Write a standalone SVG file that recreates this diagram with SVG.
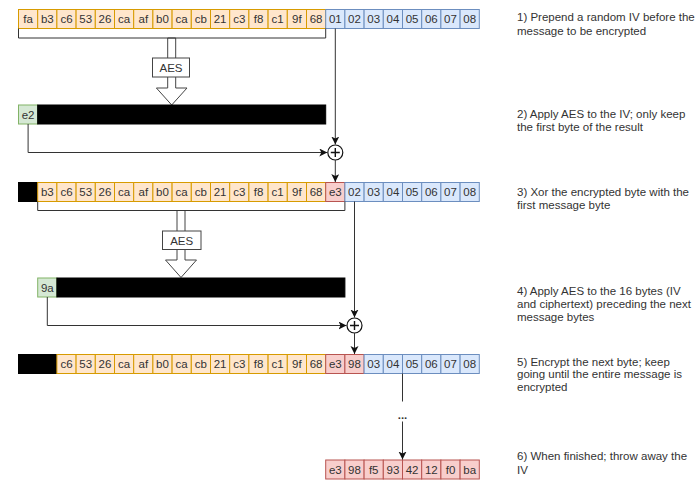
<svg xmlns="http://www.w3.org/2000/svg" width="700" height="488" viewBox="0 0 700 488">
<style>
  text { font-family: "Liberation Sans", Arial, sans-serif; fill: #333; }
  .c text, text.b { font-size: 11.5px; text-anchor: middle; }
  .o { fill: #ffe6cc; stroke: #d79b00; stroke-width: 1; }
  .bl { fill: #dae8fc; stroke: #6c8ebf; stroke-width: 1; }
  .g { fill: #d5e8d4; stroke: #82b366; stroke-width: 1; }
  .p { fill: #f8cecc; stroke: #b85450; stroke-width: 1; }
  .k { fill: #000; stroke: #000; stroke-width: 1; }
  .ln { fill: none; stroke: #333; stroke-width: 1; }
  .ar { fill: none; stroke: #333; stroke-width: 1; marker-end: url(#arr); }
  .fa { fill: #fff; stroke: #444; stroke-width: 1; }
  .note { font-size: 11.5px; }
</style>
<defs>
  <marker id="arr" markerUnits="userSpaceOnUse" markerWidth="10" markerHeight="10" refX="8" refY="4" orient="auto">
    <path d="M0,0 L8,4 L0,8 L2,4 Z" fill="#111"/>
  </marker>
</defs>

<!-- Row 1 -->
<g id="row1" class="c">
  <rect class="o" x="18.5" y="9.5" width="19.2" height="19"/><text x="28.1" y="23">fa</text>
  <rect class="o" x="37.7" y="9.5" width="19.2" height="19"/><text x="47.3" y="23">b3</text>
  <rect class="o" x="56.9" y="9.5" width="19.2" height="19"/><text x="66.5" y="23">c6</text>
  <rect class="o" x="76.1" y="9.5" width="19.2" height="19"/><text x="85.7" y="23">53</text>
  <rect class="o" x="95.3" y="9.5" width="19.2" height="19"/><text x="104.9" y="23">26</text>
  <rect class="o" x="114.5" y="9.5" width="19.2" height="19"/><text x="124.1" y="23">ca</text>
  <rect class="o" x="133.7" y="9.5" width="19.2" height="19"/><text x="143.3" y="23">af</text>
  <rect class="o" x="152.9" y="9.5" width="19.2" height="19"/><text x="162.5" y="23">b0</text>
  <rect class="o" x="172.1" y="9.5" width="19.2" height="19"/><text x="181.7" y="23">ca</text>
  <rect class="o" x="191.3" y="9.5" width="19.2" height="19"/><text x="200.9" y="23">cb</text>
  <rect class="o" x="210.5" y="9.5" width="19.2" height="19"/><text x="220.1" y="23">21</text>
  <rect class="o" x="229.7" y="9.5" width="19.2" height="19"/><text x="239.3" y="23">c3</text>
  <rect class="o" x="248.9" y="9.5" width="19.2" height="19"/><text x="258.5" y="23">f8</text>
  <rect class="o" x="268.1" y="9.5" width="19.2" height="19"/><text x="277.7" y="23">c1</text>
  <rect class="o" x="287.3" y="9.5" width="19.2" height="19"/><text x="296.9" y="23">9f</text>
  <rect class="o" x="306.5" y="9.5" width="19.2" height="19"/><text x="316.1" y="23">68</text>
  <rect class="bl" x="325.7" y="9.5" width="19.2" height="19"/><text x="335.3" y="23">01</text>
  <rect class="bl" x="344.9" y="9.5" width="19.2" height="19"/><text x="354.5" y="23">02</text>
  <rect class="bl" x="364.1" y="9.5" width="19.2" height="19"/><text x="373.7" y="23">03</text>
  <rect class="bl" x="383.3" y="9.5" width="19.2" height="19"/><text x="392.9" y="23">04</text>
  <rect class="bl" x="402.5" y="9.5" width="19.2" height="19"/><text x="412.1" y="23">05</text>
  <rect class="bl" x="421.7" y="9.5" width="19.2" height="19"/><text x="431.3" y="23">06</text>
  <rect class="bl" x="440.9" y="9.5" width="19.2" height="19"/><text x="450.5" y="23">07</text>
  <rect class="bl" x="460.1" y="9.5" width="19.2" height="19"/><text x="469.7" y="23">08</text>
</g>

<!-- AES 1 -->
<g id="aes1">
  <path class="fa" d="M167.7,38 H175.7 V88 H187 L171.7,105 L156.4,88 H167.7 Z"/>
  <rect class="fa" x="152.5" y="58" width="37" height="19"/>
  <text class="b" x="171" y="71.5">AES</text>
</g>

<!-- e2 row -->
<g id="res1" class="c">
  <rect class="g" x="18.5" y="105" width="19.2" height="19"/><text x="28.1" y="118.5">e2</text>
  <rect class="k" x="37.7" y="105" width="288" height="19"/>
</g>

<!-- Row 2 -->
<g id="row2" class="c">
  <rect class="k" x="18.5" y="182.5" width="19.2" height="19"/>
  <rect class="o" x="37.7" y="182.5" width="19.2" height="19"/><text x="47.3" y="196">b3</text>
  <rect class="o" x="56.9" y="182.5" width="19.2" height="19"/><text x="66.5" y="196">c6</text>
  <rect class="o" x="76.1" y="182.5" width="19.2" height="19"/><text x="85.7" y="196">53</text>
  <rect class="o" x="95.3" y="182.5" width="19.2" height="19"/><text x="104.9" y="196">26</text>
  <rect class="o" x="114.5" y="182.5" width="19.2" height="19"/><text x="124.1" y="196">ca</text>
  <rect class="o" x="133.7" y="182.5" width="19.2" height="19"/><text x="143.3" y="196">af</text>
  <rect class="o" x="152.9" y="182.5" width="19.2" height="19"/><text x="162.5" y="196">b0</text>
  <rect class="o" x="172.1" y="182.5" width="19.2" height="19"/><text x="181.7" y="196">ca</text>
  <rect class="o" x="191.3" y="182.5" width="19.2" height="19"/><text x="200.9" y="196">cb</text>
  <rect class="o" x="210.5" y="182.5" width="19.2" height="19"/><text x="220.1" y="196">21</text>
  <rect class="o" x="229.7" y="182.5" width="19.2" height="19"/><text x="239.3" y="196">c3</text>
  <rect class="o" x="248.9" y="182.5" width="19.2" height="19"/><text x="258.5" y="196">f8</text>
  <rect class="o" x="268.1" y="182.5" width="19.2" height="19"/><text x="277.7" y="196">c1</text>
  <rect class="o" x="287.3" y="182.5" width="19.2" height="19"/><text x="296.9" y="196">9f</text>
  <rect class="o" x="306.5" y="182.5" width="19.2" height="19"/><text x="316.1" y="196">68</text>
  <rect class="p" x="325.7" y="182.5" width="19.2" height="19"/><text x="335.3" y="196">e3</text>
  <rect class="bl" x="344.9" y="182.5" width="19.2" height="19"/><text x="354.5" y="196">02</text>
  <rect class="bl" x="364.1" y="182.5" width="19.2" height="19"/><text x="373.7" y="196">03</text>
  <rect class="bl" x="383.3" y="182.5" width="19.2" height="19"/><text x="392.9" y="196">04</text>
  <rect class="bl" x="402.5" y="182.5" width="19.2" height="19"/><text x="412.1" y="196">05</text>
  <rect class="bl" x="421.7" y="182.5" width="19.2" height="19"/><text x="431.3" y="196">06</text>
  <rect class="bl" x="440.9" y="182.5" width="19.2" height="19"/><text x="450.5" y="196">07</text>
  <rect class="bl" x="460.1" y="182.5" width="19.2" height="19"/><text x="469.7" y="196">08</text>
</g>

<!-- AES 2 -->
<g id="aes2">
  <path class="fa" d="M177,210.5 H185 V260 H196.5 L181,277.5 L165.5,260 H177 Z"/>
  <rect class="fa" x="162.5" y="231" width="38.5" height="18.5"/>
  <text class="b" x="181.7" y="244.5">AES</text>
</g>

<!-- 9a row -->
<g id="res2" class="c">
  <rect class="g" x="37.7" y="278" width="19.2" height="19"/><text x="47.3" y="291.5">9a</text>
  <rect class="k" x="56.9" y="278" width="288" height="19"/>
</g>

<!-- Row 3 -->
<g id="row3" class="c">
  <rect class="k" x="18.5" y="354.5" width="38.4" height="19"/>
  <rect class="o" x="56.9" y="354.5" width="19.2" height="19"/><text x="66.5" y="368">c6</text>
  <rect class="o" x="76.1" y="354.5" width="19.2" height="19"/><text x="85.7" y="368">53</text>
  <rect class="o" x="95.3" y="354.5" width="19.2" height="19"/><text x="104.9" y="368">26</text>
  <rect class="o" x="114.5" y="354.5" width="19.2" height="19"/><text x="124.1" y="368">ca</text>
  <rect class="o" x="133.7" y="354.5" width="19.2" height="19"/><text x="143.3" y="368">af</text>
  <rect class="o" x="152.9" y="354.5" width="19.2" height="19"/><text x="162.5" y="368">b0</text>
  <rect class="o" x="172.1" y="354.5" width="19.2" height="19"/><text x="181.7" y="368">ca</text>
  <rect class="o" x="191.3" y="354.5" width="19.2" height="19"/><text x="200.9" y="368">cb</text>
  <rect class="o" x="210.5" y="354.5" width="19.2" height="19"/><text x="220.1" y="368">21</text>
  <rect class="o" x="229.7" y="354.5" width="19.2" height="19"/><text x="239.3" y="368">c3</text>
  <rect class="o" x="248.9" y="354.5" width="19.2" height="19"/><text x="258.5" y="368">f8</text>
  <rect class="o" x="268.1" y="354.5" width="19.2" height="19"/><text x="277.7" y="368">c1</text>
  <rect class="o" x="287.3" y="354.5" width="19.2" height="19"/><text x="296.9" y="368">9f</text>
  <rect class="o" x="306.5" y="354.5" width="19.2" height="19"/><text x="316.1" y="368">68</text>
  <rect class="p" x="325.7" y="354.5" width="19.2" height="19"/><text x="335.3" y="368">e3</text>
  <rect class="p" x="344.9" y="354.5" width="19.2" height="19"/><text x="354.5" y="368">98</text>
  <rect class="bl" x="364.1" y="354.5" width="19.2" height="19"/><text x="373.7" y="368">03</text>
  <rect class="bl" x="383.3" y="354.5" width="19.2" height="19"/><text x="392.9" y="368">04</text>
  <rect class="bl" x="402.5" y="354.5" width="19.2" height="19"/><text x="412.1" y="368">05</text>
  <rect class="bl" x="421.7" y="354.5" width="19.2" height="19"/><text x="431.3" y="368">06</text>
  <rect class="bl" x="440.9" y="354.5" width="19.2" height="19"/><text x="450.5" y="368">07</text>
  <rect class="bl" x="460.1" y="354.5" width="19.2" height="19"/><text x="469.7" y="368">08</text>
</g>

<!-- Final row -->
<g id="final" class="c">
  <rect class="p" x="325.7" y="460" width="19.2" height="19"/><text x="335.3" y="473.5">e3</text>
  <rect class="p" x="344.9" y="460" width="19.2" height="19"/><text x="354.5" y="473.5">98</text>
  <rect class="p" x="364.1" y="460" width="19.2" height="19"/><text x="373.7" y="473.5">f5</text>
  <rect class="p" x="383.3" y="460" width="19.2" height="19"/><text x="392.9" y="473.5">93</text>
  <rect class="p" x="402.5" y="460" width="19.2" height="19"/><text x="412.1" y="473.5">42</text>
  <rect class="p" x="421.7" y="460" width="19.2" height="19"/><text x="431.3" y="473.5">12</text>
  <rect class="p" x="440.9" y="460" width="19.2" height="19"/><text x="450.5" y="473.5">f0</text>
  <rect class="p" x="460.1" y="460" width="19.2" height="19"/><text x="469.7" y="473.5">ba</text>
</g>

<!-- XOR nodes -->
<g id="xor1">
  <circle cx="335.3" cy="152.5" r="7.5" fill="#fff" stroke="#111" stroke-width="1.2"/>
  <path d="M330.8,152.5 H339.8 M335.3,148 V157" stroke="#111" stroke-width="1.4"/>
</g>
<g id="xor2">
  <circle cx="354.5" cy="325.5" r="7.5" fill="#fff" stroke="#111" stroke-width="1.2"/>
  <path d="M350,325.5 H359 M354.5,321 V330" stroke="#111" stroke-width="1.4"/>
</g>

<!-- Connectors -->
<g id="connectors">
  <path class="ln" d="M18.5,28.5 V38 H325.7 V28.5"/>
  <path class="ln" d="M37.7,201.5 V210.5 H344.9 V201.5"/>
  <path class="ar" d="M335.3,28.5 V144.5"/>
  <path class="ar" d="M28.1,124 V152.5 H327.3"/>
  <path class="ar" d="M335.3,160 V182"/>
  <path class="ar" d="M354.5,201.5 V317.5"/>
  <path class="ar" d="M47.3,297 V325.5 H346.5"/>
  <path class="ar" d="M354.5,333 V354"/>
  <path class="ln" d="M402.5,373.5 V401.5"/>
  <path class="ar" d="M402.5,421.5 V459.5"/>
  <text class="b" x="402.5" y="419" font-weight="bold">...</text>
</g>

<!-- Notes -->
<g id="notes" class="note">
  <text x="517" y="21">1) Prepend a random IV before the</text>
  <text x="517" y="35">message to be encrypted</text>
  <text x="517" y="117.5">2) Apply AES to the IV; only keep</text>
  <text x="517" y="131">the first byte of the result</text>
  <text x="517" y="195.5">3) Xor the encrypted byte with the</text>
  <text x="517" y="208.5">first message byte</text>
  <text x="517" y="295">4) Apply AES to the 16 bytes (IV</text>
  <text x="517" y="308">and ciphertext) preceding the next</text>
  <text x="517" y="321">message bytes</text>
  <text x="517" y="365.5">5) Encrypt the next byte; keep</text>
  <text x="517" y="378">going until the entire message is</text>
  <text x="517" y="390.5">encrypted</text>
  <text x="517" y="460">6) When finished; throw away the</text>
  <text x="517" y="473.5">IV</text>
</g>
</svg>
